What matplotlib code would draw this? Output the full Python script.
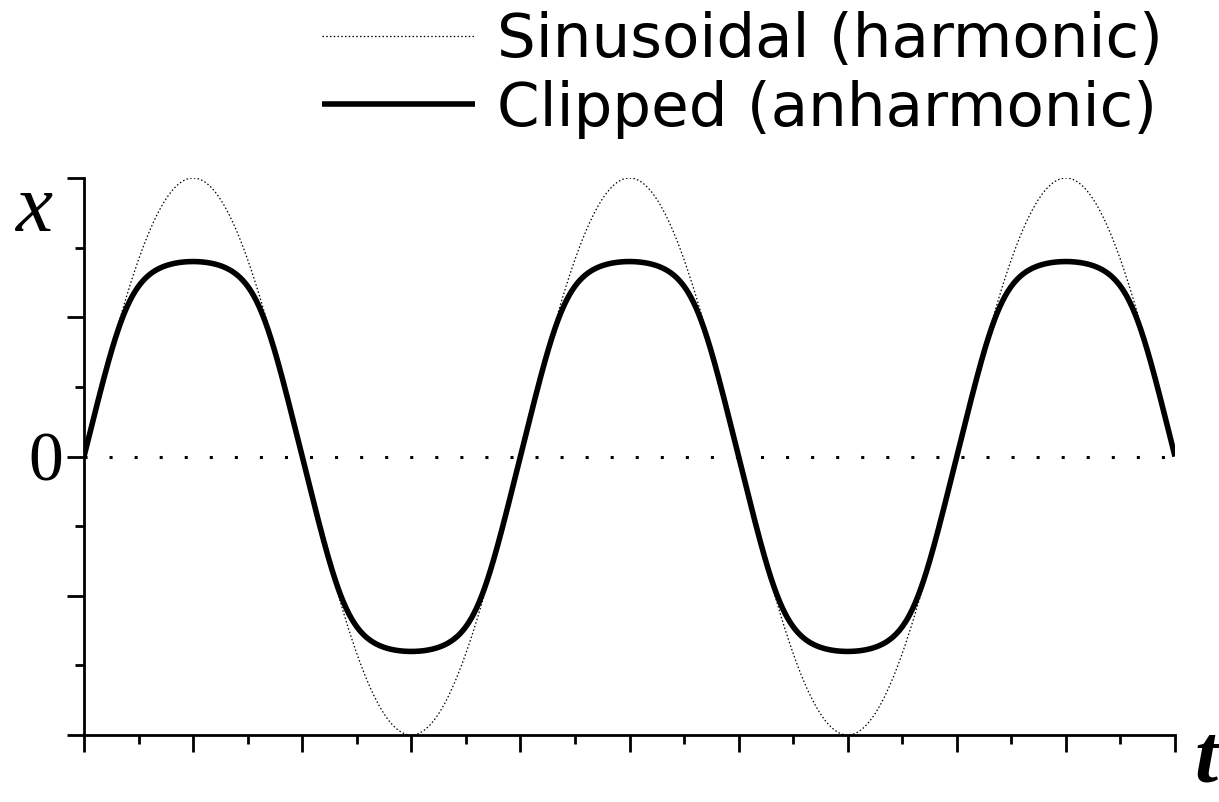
import numpy as np
import matplotlib
matplotlib.use("Agg")
import matplotlib.pyplot as plt
from matplotlib.ticker import MultipleLocator

# chart parameters
periods = 2.5          # t runs over two and a half periods
amplitude = 1.0        # sinusoid peak
clip_peak = 0.70       # peak of the clipped curve
clip_sharpness = 4     # how hard the soft clip bends
labels = ["Sinusoidal (harmonic)", "Clipped (anharmonic)"]
y_tick_labels = ["", "", "0", "", ""]


def soft_clip(s, peak, n):
    # level L such that s = amplitude maps onto peak
    level = (peak ** -n - amplitude ** -n) ** (-1.0 / n)
    return s / (1 + np.abs(s / level) ** n) ** (1.0 / n)


def main():
    t = np.linspace(0, periods, 2001)
    sine = amplitude * np.sin(2 * np.pi * t)
    clipped = soft_clip(sine, clip_peak, clip_sharpness)

    fig = plt.figure(figsize=(12.19, 8.02), dpi=100)
    ax = fig.add_axes([84 / 1219, 67 / 802, (1175 - 84) / 1219, (735 - 178) / 802])

    ax.plot([0, periods], [0, 0], color="black", lw=2.2, linestyle=(0, (1, 7.2)),
            dash_capstyle="butt")
    ax.plot(t, sine, color="black", lw=0.9, linestyle=(0, (1.2, 1.8)),
            label=labels[0])
    ax.plot(t, clipped, color="black", lw=4, solid_capstyle="butt",
            label=labels[1])

    ax.set_xlim(0, periods)
    ax.set_ylim(-amplitude, amplitude)
    for side in ["top", "right"]:
        ax.spines[side].set_visible(False)
    for side in ["left", "bottom"]:
        ax.spines[side].set_linewidth(2)

    ax.xaxis.set_major_locator(MultipleLocator(0.25))
    ax.xaxis.set_minor_locator(MultipleLocator(0.125))
    ax.set_yticks([-1, -0.5, 0, 0.5, 1])
    ax.set_yticklabels(y_tick_labels, fontfamily="Liberation Serif", fontsize=50)
    ax.yaxis.set_minor_locator(MultipleLocator(0.25))
    ax.tick_params(which="major", direction="out", length=12, width=2)
    ax.tick_params(which="minor", direction="out", length=6.5, width=2)
    ax.tick_params(axis="x", labelbottom=False)
    ax.tick_params(axis="y", pad=3)

    ax.text(-0.115, 0.88, "x", transform=ax.transData, ha="center", va="center",
            fontfamily="Liberation Serif", style="italic", fontsize=60)
    fig.text(1206 / 1219, 3 / 802, "t", ha="center", va="bottom",
             fontfamily="Liberation Serif", style="italic", fontweight="bold",
             fontsize=60)

    fig.legend(loc="upper right", bbox_to_anchor=(1190 / 1219, 1.02),
               frameon=False, prop={"family": "DejaVu Sans", "size": 44},
               handlelength=2.5, handletextpad=0.36, labelspacing=0.15,
               borderaxespad=0.05)

    fig.savefig("out.png", dpi=100)


if __name__ == "__main__":
    main()
